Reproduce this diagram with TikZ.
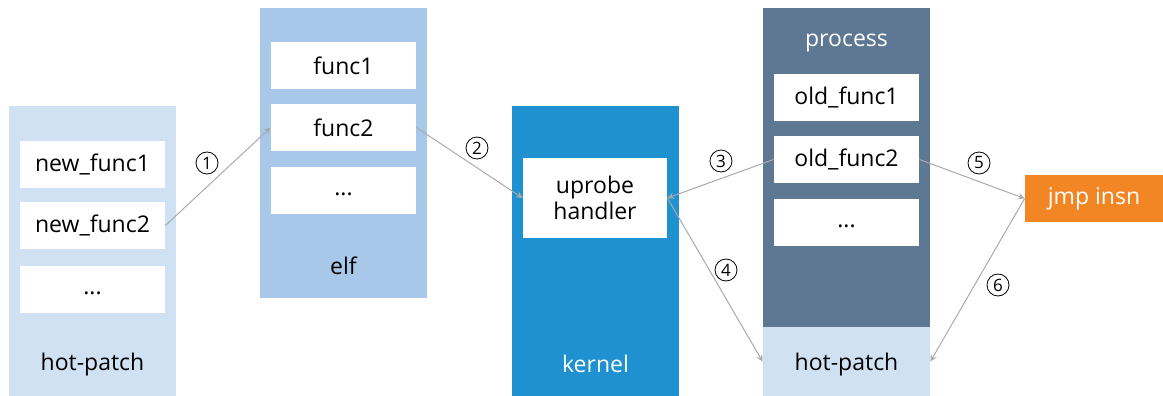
\documentclass[tikz,border=0pt]{standalone}
\usepackage{fontspec}
\setmainfont{Open Sans}
\definecolor{hplight}{HTML}{D0E1F3}
\definecolor{elfblue}{HTML}{A8C8E9}
\definecolor{kernblue}{HTML}{1F90D0}
\definecolor{procgray}{HTML}{5E7894}
\definecolor{jmporange}{HTML}{F38624}
\definecolor{linkgray}{HTML}{AAAAAA}
\begin{document}
\begin{tikzpicture}[x=0.5pt, y=-0.5pt, font=\fontsize{11.5}{13}\selectfont, line join=round, >=stealth,
	col/.style={minimum width=83.5pt, inner sep=0pt},
	fbox/.style={fill=white, minimum width=72.5pt, minimum height=23.5pt, inner sep=0pt},
	dotbox/.style={fbox, text height=5pt, text depth=0pt},
	num/.style={circle, draw, inner sep=0pt, minimum size=11pt, font=\fontsize{8.5}{9}\selectfont},
	link/.style={draw=linkgray, ->, line width=0.5pt}]
	\useasboundingbox (0,0) rectangle (1163,396);
	% columns
	\node[col, fill=hplight, minimum height=145pt] (hpa) at (92.5,251) {};
	\node[col, fill=elfblue, minimum height=145pt] (elf) at (343.5,153) {};
	\node[col, fill=kernblue, minimum height=145pt] (ker) at (595.5,251) {};
	\node[col, fill=procgray, minimum height=159.5pt] (proc) at (846.5,167.5) {};
	\node[col, fill=hplight, minimum height=34.5pt, text depth=0pt] (hpb) at (846.5,361.5) {hot-patch};
	\node[fill=jmporange, text=white, minimum width=69pt, minimum height=23.5pt, inner sep=0pt] (jmp) at (1094,198.5) {jmp insn};
	% column titles
	\node (hpat) at (92.5,365) {hot-patch};
	\node (elft) at (343.5,266) {elf};
	\node[text=white] (kert) at (595.5,364) {kernel};
	\node[text=white] (proct) at (846.5,43) {process};
	% function boxes
	\node[fbox] (nf1) at (92.5,164) {new\_func1};
	\node[fbox] (nf2) at (92.5,225.5) {new\_func2};
	\node[dotbox] (nfd) at (92.5,289) {...};
	\node[fbox] (f1) at (343.5,65.5) {func1};
	\node[fbox] (f2) at (343.5,127.5) {func2};
	\node[dotbox] (fd) at (343.5,190.5) {...};
	\node[fbox, minimum width=72pt, minimum height=40pt, align=center] (up) at (595,198) {uprobe\\handler};
	\node[fbox] (of1) at (846.5,97.5) {old\_func1};
	\node[fbox] (of2) at (846.5,159.5) {old\_func2};
	\node[dotbox] (ofd) at (846.5,222.5) {...};
	% links
	\draw[link] (nf2.east)--(f2.west);
	\draw[link] (f2.east)--(up.west);
	\draw[link] (of2.west)--(up.east);
	\draw[link] (up.east)--(hpb.west);
	\draw[link] (of2.east)--(jmp.west);
	\draw[link] (jmp.west)--(hpb.east);
	% step numbers
	\node[num] (n1) at (207,163) {1};
	\node[num] (n2) at (477,148) {2};
	\node[num] (n3) at (721,161) {3};
	\node[num] (n4) at (726,270) {4};
	\node[num] (n5) at (979,163) {5};
	\node[num] (n6) at (998,285) {6};
\end{tikzpicture}
\end{document}
